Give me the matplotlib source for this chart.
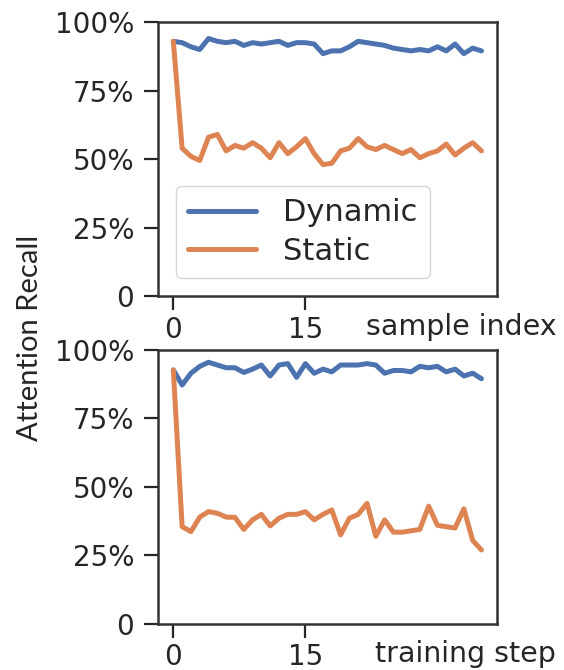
import matplotlib
matplotlib.use("Agg")
import matplotlib.pyplot as plt
import seaborn as sns

# attention recall (%) per step
sample_dynamic = [93, 92.5, 91, 90, 94, 93, 92.5, 93, 91.5, 92.5, 92, 92.5,
                  93, 91.5, 92.5, 92.5, 92, 88.5, 89.5, 89.5, 91, 93, 92.5, 92,
                  91.5, 90.5, 90, 89.5, 90, 89.5, 91, 89.5, 92, 88.5, 90.5, 89.5]
sample_static = [93, 54, 51, 49.5, 58, 59, 53, 55, 54, 56, 54, 50.5,
                 56, 52, 54.5, 57.5, 52, 48, 48.5, 53, 54, 57.5, 54.5, 53.5,
                 55, 53.5, 52, 53.5, 50.5, 52, 53, 55.5, 51.5, 54, 56, 53]
train_dynamic = [92.7, 87.2, 91.5, 94, 95.5, 94.5, 93.5, 93.5, 91.8, 93, 94.5, 90.5,
                 94.5, 95, 90, 95, 91.5, 93, 92, 94.5, 94.5, 94.5, 95, 94.5,
                 91.5, 92.5, 92.5, 92, 94, 93.5, 94, 92, 93, 90.5, 91.5, 89.5]
train_static = [92.7, 35.5, 33.7, 39, 41, 40.4, 39, 38.9, 34.5, 38, 40, 35.8,
                38.6, 40, 40, 41, 38, 40, 41.6, 32.5, 38.6, 40, 44, 32,
                38, 33.5, 33.5, 34, 34.5, 43, 36, 35.5, 35, 42, 30.5, 27]

yticks = [0, 25, 50, 75, 100]
ytick_labels = ["0", "25%", "50%", "75%", "100%"]
xticks = [0, 15]

sns.set_style("ticks")
plt.rcParams["font.family"] = ["DejaVu Sans"]
blue, orange = sns.color_palette("deep")[:2]

fig = plt.figure(figsize=(5.64, 6.7), dpi=100)
ax1 = fig.add_axes([0.280, 0.558, 0.601, 0.409])
ax2 = fig.add_axes([0.280, 0.0687, 0.601, 0.409])

panels = [
    (ax1, sample_dynamic, sample_static, "sample index"),
    (ax2, train_dynamic, train_static, "training step"),
]
for ax, dyn, sta, xlabel in panels:
    ax.plot(range(len(dyn)), dyn, color=blue, lw=3.6, label="Dynamic")
    ax.plot(range(len(sta)), sta, color=orange, lw=3.6, label="Static")
    ax.set_ylim(0, 100)
    ax.set_yticks(yticks)
    ax.set_yticklabels(ytick_labels)
    ax.set_xticks(xticks)
    ax.tick_params(labelsize=20, length=10, width=1.6, pad=4, colors="#262626")
    ax.tick_params(axis="y", pad=7)
    for sp in ax.spines.values():
        sp.set_linewidth(1.8)
        sp.set_color("#333333")
    ax.text(1.175, -0.06, xlabel, transform=ax.transAxes, ha="right",
            va="top", fontsize=20.5, color="#262626")

ax1.legend(loc="lower left", fontsize=22, handlelength=2.2,
           handletextpad=0.9, labelspacing=0.3, borderaxespad=0.6,
           frameon=True, fancybox=True)

fig.text(0.053, 0.495, "Attention Recall", rotation=90, ha="center",
         va="center", fontsize=21, family=["Lato", "DejaVu Sans"])

fig.savefig("out.png", dpi=100)
